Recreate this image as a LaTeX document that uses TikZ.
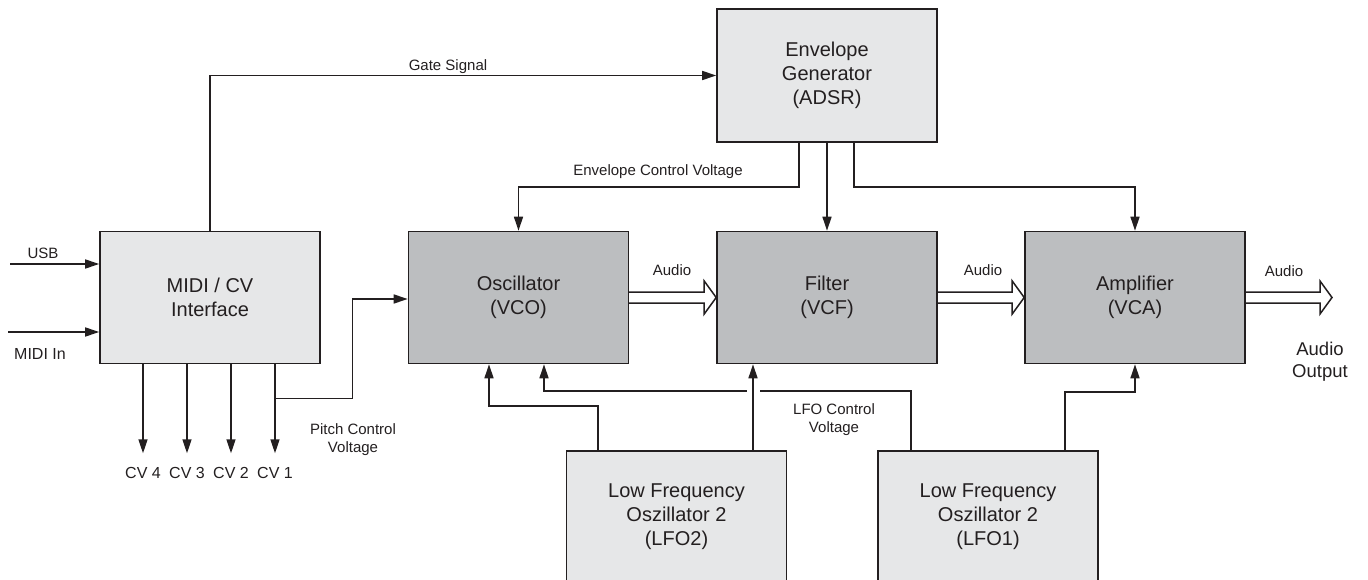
\documentclass[tikz,border=0pt]{standalone}
\usepackage{fontspec}
\setmainfont{Liberation Sans}
\usetikzlibrary{arrows.meta,backgrounds}
\definecolor{lightbox}{HTML}{E6E7E8}
\definecolor{darkbox}{HTML}{BCBEC0}
\definecolor{ink}{HTML}{231F20}
\begin{document}
\begin{tikzpicture}[x=1pt,y=-1pt,
  box/.style={draw=ink, line width=1.6pt, minimum width=220pt, minimum height=132pt,
    inner sep=0pt, align=center, text=ink, font=\fontsize{20}{24}\selectfont},
  lbox/.style={box, fill=lightbox},
  dbox/.style={box, fill=darkbox},
  lab/.style={inner sep=0pt, text=ink, align=center, font=\fontsize{15}{18}\selectfont},
  conn/.style={draw=ink, line width=1.5pt},
  arr/.style={conn, -{Triangle[length=14pt,width=9pt]}},
  hollow/.style={draw=ink, line width=1.5pt, fill=white, line join=miter}
]
\useasboundingbox (0,0) rectangle (1368,580);
\begin{scope}
\clip (0,0) rectangle (1368,580);

% boxes
\node[lbox] (midi) at (210,297.5) {MIDI / CV\\Interface};
\node[dbox] (vco) at (518.5,297.5) {Oscillator\\(VCO)};
\node[dbox] (vcf) at (827,297.5) {Filter\\(VCF)};
\node[dbox] (vca) at (1135,297.5) {Amplifier\\(VCA)};
\node[lbox, minimum height=133pt] (adsr) at (827,75.5) {Envelope\\Generator\\(ADSR)};
\node[lbox] (lfo2) at (676.5,517) {Low Frequency\\Oszillator 2\\(LFO2)};
\node[lbox] (lfo1) at (988,517) {Low Frequency\\Oszillator 2\\(LFO1)};

% inputs
\coordinate (usbin) at (10,264);
\coordinate (midiin) at (8,332);
\draw[arr] (usbin) -- (usbin -| midi.west);
\draw[arr] (midiin) -- (midiin -| midi.west);
\node[lab] (usb) at (43,253) {USB};
\node[lab, font=\fontsize{16}{19}\selectfont] (midiinl) at (40,354) {MIDI In};

% CV outputs
\draw[arr] ([xshift=-67pt]midi.south) -- ++(0,89);
\draw[arr] ([xshift=-23pt]midi.south) -- ++(0,89);
\draw[arr] ([xshift=21pt]midi.south) -- ++(0,89);
\draw[arr] ([xshift=65pt]midi.south) -- ++(0,89);
\node[lab, font=\fontsize{16}{19}\selectfont] (cv4) at (143,473) {CV 4};
\node[lab, font=\fontsize{16}{19}\selectfont] (cv3) at (187,473) {CV 3};
\node[lab, font=\fontsize{16}{19}\selectfont] (cv2) at (231,473) {CV 2};
\node[lab, font=\fontsize{16}{19}\selectfont] (cv1) at (275,473) {CV 1};

% pitch control
\draw[arr] ([xshift=65pt,yshift=-34pt]midi.south) -| ([xshift=-55pt,yshift=-1.5pt]vco.west) -- ([yshift=-1.5pt]vco.west);
\node[lab] (pitch) at (353,439.5) {Pitch Control\\Voltage};

% gate signal
\draw[arr] (midi.north) |- (adsr.west);
\node[lab] (gate) at (448,67) {Gate Signal};

% envelope connections
\draw[arr] ([xshift=-28pt]adsr.south) -- ++(0,44) -| (vco.north);
\draw[arr] (adsr.south) -- (vcf.north);
\draw[arr] ([xshift=27pt]adsr.south) -- ++(0,44) -| (vca.north);
\node[lab] (envl) at (658,172) {Envelope Control Voltage};

% LFO connections
\draw[arr] ([xshift=-78.5pt]lfo2.north) -- ++(0,-44) -| ([xshift=-29.5pt]vco.south);
\draw[arr] ([xshift=-77pt]lfo1.north) -- ++(0,-59) -| ([xshift=25.5pt]vco.south);
\draw[white, line width=13pt] ([xshift=76.5pt,yshift=50pt]lfo2.north) -- ([xshift=76.5pt,yshift=68pt]lfo2.north);
\draw[arr] ([xshift=76.5pt]lfo2.north) -- ([xshift=-74pt]vcf.south);
\draw[arr] ([xshift=77pt]lfo1.north) -- ++(0,-58) -| (vca.south);
\node[lab] (lfol) at (834,420) {LFO Control\\Voltage};

% audio paths (hollow arrows), behind the boxes
\coordinate (out) at (1332,297.5);
\begin{pgfonlayer}{background}
\draw[hollow] ([xshift=-4pt,yshift=5.5pt]vco.east) -- ([xshift=-12pt,yshift=5.5pt]vcf.west) -- ([xshift=-12pt,yshift=16.5pt]vcf.west) -- (vcf.west) -- ([xshift=-12pt,yshift=-16.5pt]vcf.west) -- ([xshift=-12pt,yshift=-5.5pt]vcf.west) -- ([xshift=-4pt,yshift=-5.5pt]vco.east);
\draw[hollow] ([xshift=-4pt,yshift=5.5pt]vcf.east) -- ([xshift=-12pt,yshift=5.5pt]vca.west) -- ([xshift=-12pt,yshift=16.5pt]vca.west) -- (vca.west) -- ([xshift=-12pt,yshift=-16.5pt]vca.west) -- ([xshift=-12pt,yshift=-5.5pt]vca.west) -- ([xshift=-4pt,yshift=-5.5pt]vcf.east);
\draw[hollow] ([xshift=-4pt,yshift=5.5pt]vca.east) -- ([xshift=-12pt,yshift=5.5pt]out) -- ([xshift=-12pt,yshift=16.5pt]out) -- (out) -- ([xshift=-12pt,yshift=-16.5pt]out) -- ([xshift=-12pt,yshift=-5.5pt]out) -- ([xshift=-4pt,yshift=-5.5pt]vca.east);
\end{pgfonlayer}
\node[lab] (a1) at (672,270) {Audio};
\node[lab] (a2) at (983,270) {Audio};
\node[lab] (a3) at (1284,271) {Audio};
\node[lab, font=\fontsize{18.5}{22}\selectfont] (aout) at (1320,361.5) {Audio\\Output};
\end{scope}
\end{tikzpicture}
\end{document}
